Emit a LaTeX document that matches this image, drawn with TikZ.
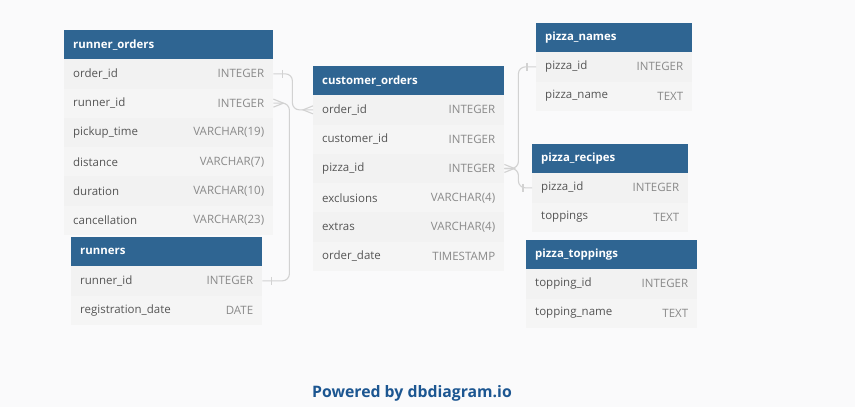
\documentclass[tikz,border=0pt]{standalone}
\usepackage{fontspec}
\setmainfont{Open Sans}

\definecolor{hdrblue}{RGB}{47,101,146}
\definecolor{rowgray}{RGB}{242,242,242}
\definecolor{rowgrayb}{RGB}{245,245,245}
\definecolor{linkgray}{RGB}{210,210,210}
\definecolor{fieldtext}{RGB}{85,85,85}
\definecolor{typetext}{RGB}{138,138,138}
\definecolor{pagebg}{RGB}{250,250,251}
\definecolor{poweredblue}{RGB}{28,86,145}

\begin{document}
\begin{tikzpicture}[x=1pt,y=-1pt,
	tblhead/.style={fill=hdrblue, anchor=north west, minimum height=29pt, inner sep=0pt},
	tblrow/.style={anchor=north west, minimum height=29.3pt, inner sep=0pt},
	hdrtxt/.style={anchor=west, text=white, inner sep=0pt, font=\bfseries\fontsize{11.4}{13}\selectfont},
	fieldtxt/.style={anchor=west, text=fieldtext, inner sep=0pt, font=\fontsize{11.5}{13}\selectfont},
	typetxt/.style={anchor=east, text=typetext, inner sep=0pt, font=\fontsize{11.5}{13}\selectfont},
	link/.style={draw=linkgray, line width=1.1pt, rounded corners=7pt}]
		\fill[pagebg] (0,0) rectangle (855,407);
		\useasboundingbox (0,0) rectangle (855,407);
		
		% id, title, x, y, width, rows
		\def\erdtable#1#2#3#4#5#6{
			\node[tblhead, minimum width=#5pt] (#1-h) at (#3,#4) {};
			\node[hdrtxt] at ([xshift=9pt]#1-h.west) {#2};
			\foreach \n/\t [count=\j] in {#6} {
				\ifodd\j\def\rowc{rowgray}\else\def\rowc{rowgrayb}\fi
				\node[tblrow, fill=\rowc, minimum width=#5pt] (#1-\j) at (#3,{#4+29+(\j-1)*29.3}) {};
				\node[fieldtxt] at ([xshift=9pt]#1-\j.west) {\n};
				\node[typetxt] at ([xshift=-9pt]#1-\j.east) {\t};
			}
		}
		
		\erdtable{ro}{runner\_orders}{64}{30}{209}{order\_id/INTEGER, runner\_id/INTEGER, pickup\_time/VARCHAR(19), distance/VARCHAR(7), duration/VARCHAR(10), cancellation/VARCHAR(23)}
		\erdtable{rn}{runners}{71}{237}{191}{runner\_id/INTEGER, registration\_date/DATE}
		\erdtable{co}{customer\_orders}{313}{66}{191}{order\_id/INTEGER, customer\_id/INTEGER, pizza\_id/INTEGER, exclusions/VARCHAR(4), extras/VARCHAR(4), order\_date/TIMESTAMP}
		\erdtable{pn}{pizza\_names}{536}{23}{156}{pizza\_id/INTEGER, pizza\_name/TEXT}
		\erdtable{pr}{pizza\_recipes}{532}{144}{156}{pizza\_id/INTEGER, toppings/TEXT}
		\erdtable{pt}{pizza\_toppings}{526}{240}{171}{topping\_id/INTEGER, topping\_name/TEXT}
		
		% references
		\draw[link] (ro-1.east) -- ++(19,0) |- (co-1.west);
		\draw[link] (ro-2.east) -- ++(16,0) |- (rn-1.east);
		\draw[link] (co-3.east) -- ++(14,0) |- (pn-1.west);
		\draw[link] (co-3.east) -- ++(14,0) |- (pr-1.west);
		
		% one ends
		\draw[linkgray, line width=1.1pt] ([xshift=9pt,yshift=4pt]ro-1.east) -- ([xshift=9pt,yshift=-4pt]ro-1.east);
		\draw[linkgray, line width=1.1pt] ([xshift=9pt,yshift=4pt]rn-1.east) -- ([xshift=9pt,yshift=-4pt]rn-1.east);
		\draw[linkgray, line width=1.1pt] ([xshift=-9pt,yshift=4pt]pn-1.west) -- ([xshift=-9pt,yshift=-4pt]pn-1.west);
		\draw[linkgray, line width=1.1pt] ([xshift=-9pt,yshift=4pt]pr-1.west) -- ([xshift=-9pt,yshift=-4pt]pr-1.west);
		
		% many ends
		\draw[linkgray, line width=1.1pt] ([yshift=4pt]co-1.west) -- ([xshift=-10pt]co-1.west) -- ([yshift=-4pt]co-1.west);
		\draw[linkgray, line width=1.1pt] ([yshift=4pt]ro-2.east) -- ([xshift=10pt]ro-2.east) -- ([yshift=-4pt]ro-2.east);
		\draw[linkgray, line width=1.1pt] ([yshift=4pt]co-3.east) -- ([xshift=10pt]co-3.east) -- ([yshift=-4pt]co-3.east);
		
		\node[text=poweredblue, font=\bfseries\fontsize{15.8}{19}\selectfont] (powered) at (412,393) {Powered by dbdiagram.io};
	\end{tikzpicture}
\end{document}
